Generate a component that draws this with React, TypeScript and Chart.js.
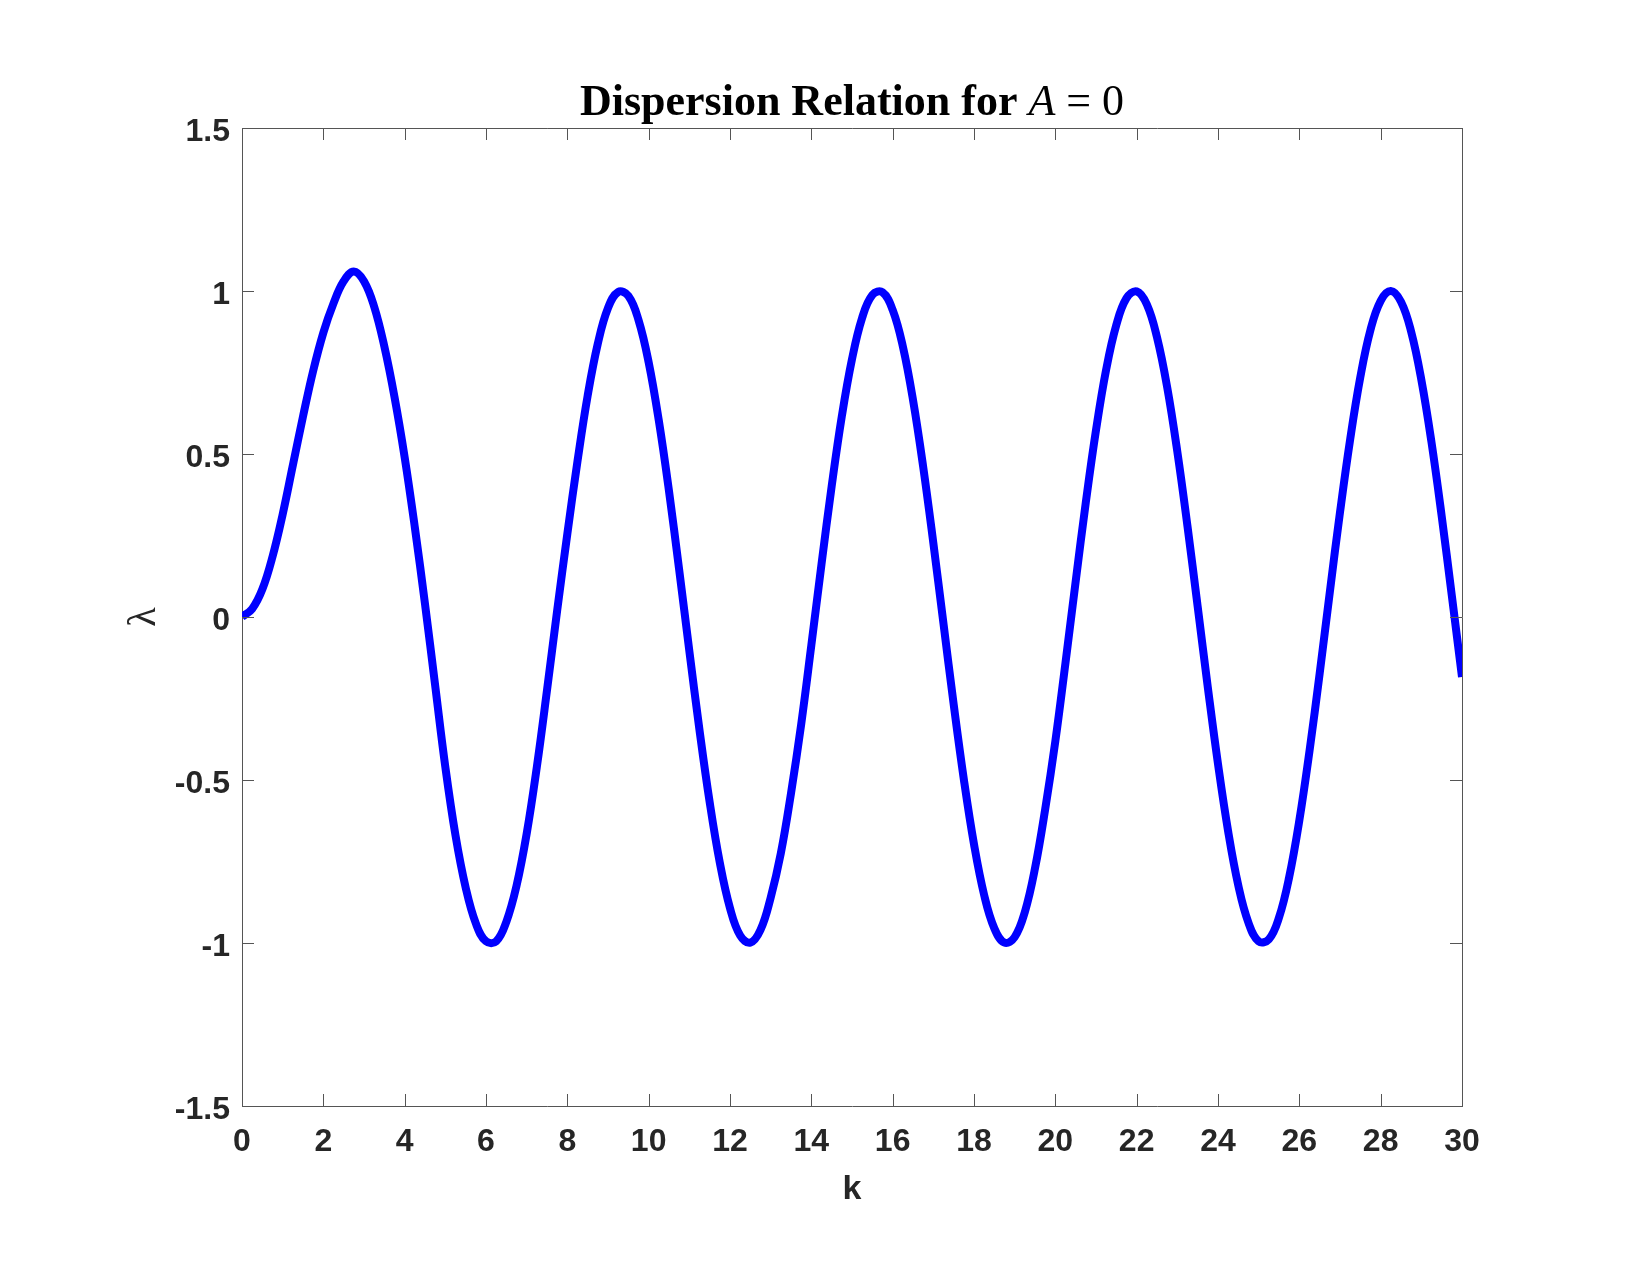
import React, { useEffect, useRef } from "react";
import { Chart, registerables } from "chart.js";

Chart.register(...registerables);

const kValues = [
  0, 0.25, 0.5, 0.75, 1, 1.25, 1.5, 1.75, 2, 2.25, 2.5, 2.75, 3, 3.25, 3.5, 3.75,
  4, 4.25, 4.5, 4.75, 5, 5.25, 5.5, 5.75, 6, 6.25, 6.5, 6.75, 7, 7.25, 7.5, 7.75,
  8, 8.25, 8.5, 8.75, 9, 9.25, 9.5, 9.75, 10, 10.25, 10.5, 10.75, 11, 11.25, 11.5, 11.75,
  12, 12.25, 12.5, 12.75, 13, 13.25, 13.5, 13.75, 14, 14.25, 14.5, 14.75, 15, 15.25, 15.5, 15.75,
  16, 16.25, 16.5, 16.75, 17, 17.25, 17.5, 17.75, 18, 18.25, 18.5, 18.75, 19, 19.25, 19.5, 19.75,
  20, 20.25, 20.5, 20.75, 21, 21.25, 21.5, 21.75, 22, 22.25, 22.5, 22.75, 23, 23.25, 23.5, 23.75,
  24, 24.25, 24.5, 24.75, 25, 25.25, 25.5, 25.75, 26, 26.25, 26.5, 26.75, 27, 27.25, 27.5, 27.75,
  28, 28.25, 28.5, 28.75, 29, 29.25, 29.5, 29.75, 30,
];

const lambdaValues = [
  0.0, 0.025, 0.085, 0.185, 0.315, 0.465, 0.615, 0.755, 0.872, 0.962, 1.03, 1.06, 1.03, 0.952, 0.83, 0.675,
  0.49, 0.275, 0.04, -0.21, -0.46, -0.67, -0.83, -0.94, -0.995, -0.995, -0.935, -0.825, -0.665, -0.46, -0.225, 0.02,
  0.255, 0.478, 0.679, 0.839, 0.948, 0.997, 0.985, 0.911, 0.781, 0.602, 0.386, 0.145, -0.104, -0.347, -0.568, -0.754,
  -0.893, -0.977, -0.999, -0.96, -0.861, -0.725, -0.541, -0.33, -0.087, 0.162, 0.401, 0.616, 0.791, 0.918, 0.988, 0.996,
  0.942, 0.83, 0.666, 0.461, 0.227, -0.021, -0.268, -0.498, -0.697, -0.853, -0.955, -0.999, -0.982, -0.905, -0.771, -0.59,
  -0.381, -0.14, 0.109, 0.352, 0.573, 0.759, 0.896, 0.978, 0.999, 0.959, 0.858, 0.705, 0.507, 0.278, 0.032, -0.216,
  -0.451, -0.658, -0.824, -0.938, -0.995, -0.989, -0.922, -0.798, -0.624, -0.411, -0.173, 0.077, 0.321, 0.545, 0.736, 0.881,
  0.97, 1.0, 0.967, 0.875, 0.728, 0.536, 0.31, 0.065, -0.184,
];

const xTickValues = [0, 2, 4, 6, 8, 10, 12, 14, 16, 18, 20, 22, 24, 26, 28, 30];
const xTickLabels = ["0", "2", "4", "6", "8", "10", "12", "14", "16", "18", "20", "22", "24", "26", "28", "30"];
const yTickValues = [-1.5, -1, -0.5, 0, 0.5, 1, 1.5];
const yTickLabels = ["-1.5", "-1", "-0.5", "0", "0.5", "1", "1.5"];

const titleBold = "Dispersion Relation for ";
const titleMathVar = "A";
const titleMathRest = " = 0";
const xAxisTitle = "k";
const yAxisTitle = "λ";

const AXIS_COLOR = "#262626";
const LINE_GRAY = "#555555";

const boxAndTicksPlugin = {
  id: "boxAndTicks",
  afterDatasetsDraw(chart: any) {
    const { ctx, chartArea, scales } = chart;
    const { left, right, top, bottom } = chartArea;
    const len = 12;
    ctx.save();
    ctx.strokeStyle = LINE_GRAY;
    ctx.lineWidth = 1;
    ctx.beginPath();
    ctx.moveTo(left, top + 0.5);
    ctx.lineTo(right + 0.5, top + 0.5);
    ctx.lineTo(right + 0.5, bottom);
    ctx.stroke();
    ctx.beginPath();
    xTickValues.forEach((v) => {
      const px = Math.round(scales.x.getPixelForValue(v)) + 0.5;
      ctx.moveTo(px, bottom);
      ctx.lineTo(px, bottom - len);
      ctx.moveTo(px, top);
      ctx.lineTo(px, top + len);
    });
    yTickValues.forEach((v) => {
      const py = Math.round(scales.y.getPixelForValue(v)) + 0.5;
      ctx.moveTo(left, py);
      ctx.lineTo(left + len, py);
      ctx.moveTo(right, py);
      ctx.lineTo(right - len, py);
    });
    ctx.stroke();
    ctx.restore();
  },
  afterDraw(chart: any) {
    const { ctx, chartArea } = chart;
    const cx = (chartArea.left + chartArea.right) / 2;
    const baseY = 115;
    ctx.save();
    ctx.fillStyle = "#000000";
    ctx.textBaseline = "alphabetic";
    ctx.textAlign = "left";
    const fBold = 'bold 44px "Liberation Serif"';
    const fItal = 'italic 44px "Liberation Serif"';
    const fNorm = '44px "Liberation Serif"';
    ctx.font = fBold;
    const w1 = ctx.measureText(titleBold).width;
    ctx.font = fItal;
    const w2 = ctx.measureText(titleMathVar).width;
    ctx.font = fNorm;
    const w3 = ctx.measureText(titleMathRest).width;
    let x = cx - (w1 + w2 + w3) / 2;
    ctx.font = fBold;
    ctx.fillText(titleBold, x, baseY);
    x += w1;
    ctx.font = fItal;
    ctx.fillText(titleMathVar, x, baseY);
    x += w2;
    ctx.font = fNorm;
    ctx.fillText(titleMathRest, x, baseY);
    ctx.restore();
  },
};

export default function App() {
  const canvasRef = useRef<HTMLCanvasElement | null>(null);

  useEffect(() => {
    if (!canvasRef.current) return;
    const tickFont = { family: '"Liberation Sans", Arial, sans-serif', weight: "bold" as const, size: 32 };
    const chart = new Chart(canvasRef.current, {
      type: "line",
      data: {
        datasets: [
          {
            data: kValues.map((k, i) => ({ x: k, y: lambdaValues[i] })),
            borderColor: "#0000ff",
            borderWidth: 8,
            pointRadius: 0,
            tension: 0.4,
            fill: false,
          },
        ],
      },
      options: {
        responsive: false,
        animation: false,
        devicePixelRatio: 1,
        layout: { padding: { left: 0, right: 188, top: 128, bottom: 0 } },
        plugins: {
          legend: { display: false },
          tooltip: { enabled: false },
          title: { display: false },
        },
        scales: {
          x: {
            type: "linear",
            min: 0,
            max: 30,
            afterFit: (s: any) => {
              s.height = 169;
            },
            afterBuildTicks: (s: any) => {
              s.ticks = xTickValues.map((v) => ({ value: v }));
            },
            ticks: {
              autoSkip: false,
              maxRotation: 0,
              minRotation: 0,
              padding: 17,
              color: AXIS_COLOR,
              font: tickFont,
              callback: (v: any) => {
                const i = xTickValues.indexOf(Number(v));
                return i >= 0 ? xTickLabels[i] : "";
              },
            },
            grid: { display: false, drawTicks: false },
            border: { display: true, color: LINE_GRAY, width: 1 },
            title: {
              display: true,
              text: xAxisTitle,
              color: AXIS_COLOR,
              font: { family: '"Liberation Sans", Arial, sans-serif', weight: "bold", size: 34 },
              padding: { top: 0, bottom: 65 },
            },
          },
          y: {
            type: "linear",
            min: -1.5,
            max: 1.5,
            afterFit: (s: any) => {
              s.width = 242;
            },
            afterBuildTicks: (s: any) => {
              s.ticks = yTickValues.map((v) => ({ value: v }));
            },
            ticks: {
              autoSkip: false,
              padding: 12,
              labelOffset: 4,
              color: AXIS_COLOR,
              font: tickFont,
              callback: (v: any) => {
                const i = yTickValues.indexOf(Number(v));
                return i >= 0 ? yTickLabels[i] : "";
              },
            },
            grid: { display: false, drawTicks: false },
            border: { display: true, color: LINE_GRAY, width: 1 },
            title: {
              display: true,
              text: yAxisTitle,
              color: AXIS_COLOR,
              font: { family: '"Liberation Serif", serif', weight: "normal", size: 40 },
              padding: { top: 120, bottom: 0 },
            },
          },
        },
      },
      plugins: [boxAndTicksPlugin],
    });
    return () => chart.destroy();
  }, []);

  return (
    <div style={{ position: "absolute", left: 0, top: 0, width: 1650, height: 1275, background: "#ffffff" }}>
      <canvas ref={canvasRef} width={1650} height={1275} style={{ display: "block" }} />
    </div>
  );
}
